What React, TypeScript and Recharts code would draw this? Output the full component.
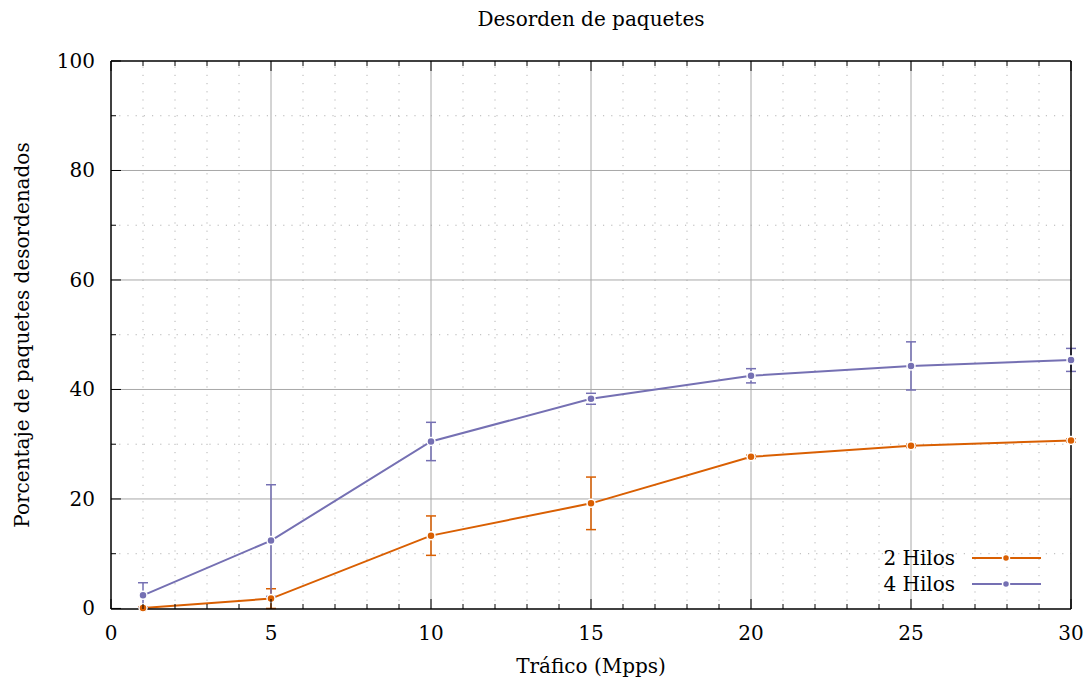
import React from 'react';
import { LineChart, Line, XAxis, YAxis, ErrorBar, ReferenceLine, Legend } from 'recharts';

const traffic = [1, 5, 10, 15, 20, 25, 30];
const hilos2 = [0.1, 1.8, 13.3, 19.2, 27.7, 29.7, 30.7];
const hilos2Err = [0.2, 1.8, 3.6, 4.8, 0.3, 0.3, 0.3];
const hilos4 = [2.4, 12.4, 30.5, 38.3, 42.5, 44.3, 45.4];
const hilos4Err = [2.3, 10.2, 3.5, 1.0, 1.3, 4.4, 2.1];
const seriesNames = ['2 Hilos', '4 Hilos'];
const seriesColors = ['#d95f02', '#7570b3'];

const xAllTicks = [0, 1, 2, 3, 4, 5, 6, 7, 8, 9, 10, 11, 12, 13, 14, 15, 16, 17, 18, 19, 20, 21, 22, 23, 24, 25, 26, 27, 28, 29, 30];
const xLabelTicks = [0, 5, 10, 15, 20, 25, 30];
const xMajorGrid = [5, 10, 15, 20, 25];
const xMinorGrid = [1, 2, 3, 4, 6, 7, 8, 9, 11, 12, 13, 14, 16, 17, 18, 19, 21, 22, 23, 24, 26, 27, 28, 29];
const yAllTicks = [0, 10, 20, 30, 40, 50, 60, 70, 80, 90, 100];
const yLabelTicks = [0, 20, 40, 60, 80, 100];
const yMajorGrid = [20, 40, 60, 80];
const yMinorGrid = [10, 30, 50, 70, 90];

const title = 'Desorden de paquetes';
const xTitle = 'Tráfico (Mpps)';
const yTitle = 'Porcentaje de paquetes desordenados';

const rows = traffic.map((t, i) => ({
  traffic: t,
  h2: hilos2[i],
  h2e: hilos2Err[i],
  h4: hilos4[i],
  h4e: hilos4Err[i],
}));

const FONT = '"DejaVu Serif", serif';
const FS = 20;

const BottomTick = (props: any) => {
  const { x, y, payload } = props;
  const major = xLabelTicks.includes(payload.value);
  return (
    <g>
      <line x1={x} y1={y} x2={x} y2={y - (major ? 10 : 5)} stroke="#000" strokeWidth={1} />
      {major && (
        <text x={x} y={y + 31} textAnchor="middle" fontFamily={FONT} fontSize={FS} fill="#000">
          {payload.value}
        </text>
      )}
    </g>
  );
};

const TopTick = (props: any) => {
  const { x, y, payload } = props;
  const major = xLabelTicks.includes(payload.value);
  return <line x1={x} y1={y} x2={x} y2={y + (major ? 10 : 5)} stroke="#000" strokeWidth={1} />;
};

const LeftTick = (props: any) => {
  const { x, y, payload } = props;
  const major = yLabelTicks.includes(payload.value);
  return (
    <g>
      <line x1={x} y1={y} x2={x + (major ? 10 : 5)} y2={y} stroke="#000" strokeWidth={1} />
      {major && (
        <text x={x - 16} y={y + 7} textAnchor="end" fontFamily={FONT} fontSize={FS} fill="#000">
          {payload.value}
        </text>
      )}
    </g>
  );
};

const RightTick = (props: any) => {
  const { x, y, payload } = props;
  const major = yLabelTicks.includes(payload.value);
  return <line x1={x} y1={y} x2={x - (major ? 10 : 5)} y2={y} stroke="#000" strokeWidth={1} />;
};

const makeDot = (color: string) => (props: any) => {
  const { cx, cy, index } = props;
  if (cx == null || cy == null) return <g key={index} />;
  return <circle key={index} cx={cx} cy={cy} r={4} fill={color} stroke="#fff" strokeWidth={1.5} />;
};

const LegendContent = (props: any) => {
  const payload = (props.payload || []).slice().sort(
    (a: any, b: any) => seriesNames.indexOf(a.value) - seriesNames.indexOf(b.value)
  );
  return (
    <svg width={180} height={60} style={{ overflow: 'visible' }}>
      {payload.map((p: any, i: number) => (
        <g key={p.value}>
          <text x={79} y={13 + 26 * i + 7} textAnchor="end" fontFamily={FONT} fontSize={FS} fill="#000">
            {p.value}
          </text>
          <line x1={96} y1={13 + 26 * i} x2={165} y2={13 + 26 * i} stroke={p.color} strokeWidth={2} />
          <circle cx={130} cy={13 + 26 * i} r={3.5} fill={p.color} stroke="#fff" strokeWidth={1.5} />
        </g>
      ))}
    </svg>
  );
};

const DOT_DASH = '1.2 7';
const MINOR_COLOR = '#b4b4b4';
const MAJOR_COLOR = '#a8a8a8';

export default function App() {
  return (
    <div style={{ position: 'absolute', left: 8, top: 8, width: 1077, height: 676, background: '#fff' }}>
      <LineChart width={1077} height={676} data={rows} margin={{ top: 0, right: 0, bottom: 0, left: 0 }}>
        {xMinorGrid.map((v) => (
          <ReferenceLine key={'xm' + v} x={v} stroke={MINOR_COLOR} strokeWidth={1} strokeDasharray={DOT_DASH} />
        ))}
        {yMinorGrid.map((v) => (
          <ReferenceLine key={'ym' + v} y={v} stroke={MINOR_COLOR} strokeWidth={1} strokeDasharray={DOT_DASH} />
        ))}
        {xMajorGrid.map((v) => (
          <ReferenceLine key={'xM' + v} x={v} stroke={MAJOR_COLOR} strokeWidth={1} />
        ))}
        {yMajorGrid.map((v) => (
          <ReferenceLine key={'yM' + v} y={v} stroke={MAJOR_COLOR} strokeWidth={1} />
        ))}
        <XAxis
          dataKey="traffic"
          type="number"
          domain={[0, 30]}
          ticks={xAllTicks}
          interval={0}
          height={75}
          tickSize={0}
          tickMargin={0}
          tickLine={false}
          tick={<BottomTick />}
          axisLine={{ stroke: '#000', strokeWidth: 1.5 }}
          label={{ value: xTitle, position: 'insideBottom', offset: 11, fontFamily: FONT, fontSize: FS, fill: '#000' }}
        />
        <XAxis
          xAxisId="top"
          orientation="top"
          dataKey="traffic"
          type="number"
          domain={[0, 30]}
          ticks={xAllTicks}
          interval={0}
          height={53}
          tickSize={0}
          tickMargin={0}
          tickLine={false}
          tick={<TopTick />}
          axisLine={{ stroke: '#000', strokeWidth: 1.5 }}
          label={{ value: title, position: 'insideTop', offset: 4, fontFamily: FONT, fontSize: FS, fill: '#000' }}
        />
        <YAxis
          type="number"
          domain={[0, 100]}
          ticks={yAllTicks}
          interval={0}
          width={103}
          tickSize={0}
          tickMargin={0}
          tickLine={false}
          tick={<LeftTick />}
          axisLine={{ stroke: '#000', strokeWidth: 1.5 }}
          label={{ value: yTitle, angle: -90, position: 'insideLeft', offset: 14, textAnchor: 'middle', fontFamily: FONT, fontSize: FS, fill: '#000' }}
        />
        <YAxis
          yAxisId="right"
          orientation="right"
          type="number"
          domain={[0, 100]}
          ticks={yAllTicks}
          interval={0}
          width={14}
          tickSize={0}
          tickMargin={0}
          tickLine={false}
          tick={<RightTick />}
          axisLine={{ stroke: '#000', strokeWidth: 1.5 }}
        />
        <Legend
          layout="vertical"
          align="center"
          verticalAlign="middle"
          content={<LegendContent />}
          wrapperStyle={{ position: 'absolute', left: 868, top: 537, width: 180, height: 60 }}
        />
        <Line
          name={seriesNames[0]}
          dataKey="h2"
          type="linear"
          stroke={seriesColors[0]}
          strokeWidth={2}
          dot={makeDot(seriesColors[0])}
          activeDot={false}
          isAnimationActive={false}
        >
          <ErrorBar dataKey="h2e" direction="y" width={5} stroke={seriesColors[0]} strokeWidth={1.5} />
        </Line>
        <Line
          name={seriesNames[1]}
          dataKey="h4"
          type="linear"
          stroke={seriesColors[1]}
          strokeWidth={2}
          dot={makeDot(seriesColors[1])}
          activeDot={false}
          isAnimationActive={false}
        >
          <ErrorBar dataKey="h4e" direction="y" width={5} stroke={seriesColors[1]} strokeWidth={1.5} />
        </Line>
      </LineChart>
    </div>
  );
}
